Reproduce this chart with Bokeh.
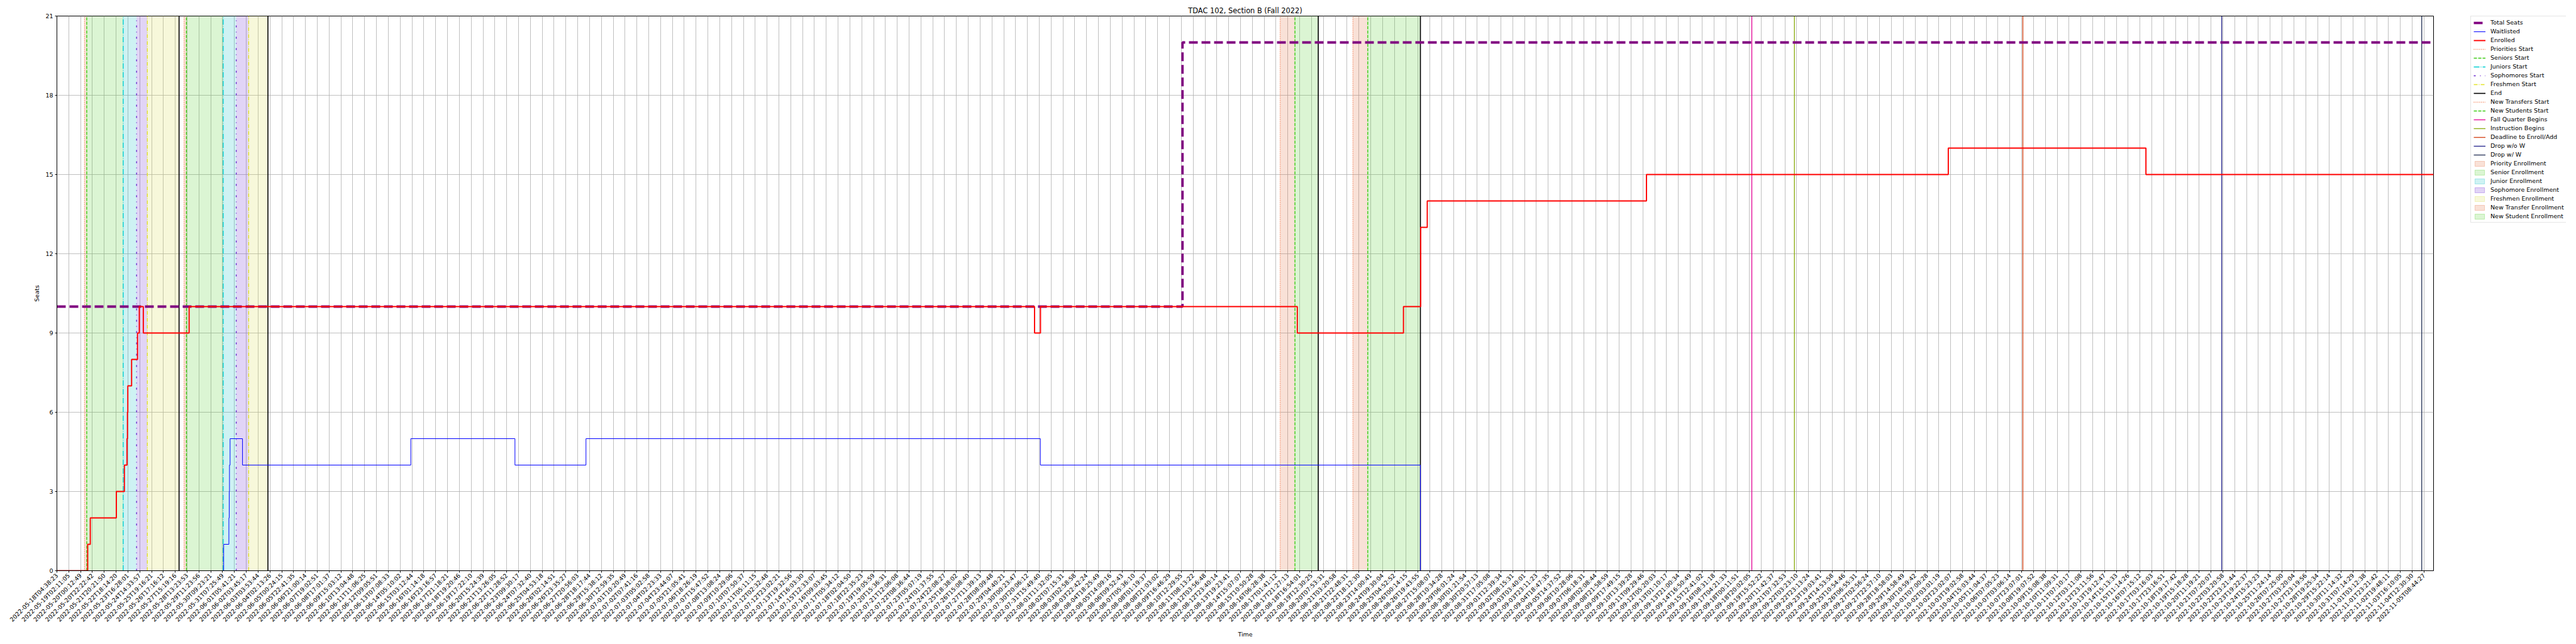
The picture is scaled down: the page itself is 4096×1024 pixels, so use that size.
import math
from bokeh.plotting import figure
from bokeh.layouts import row
from bokeh.models import Range1d, FixedTicker, Legend, LegendItem
from bokeh.core.properties import value
from bokeh.embed import file_html
from bokeh.resources import INLINE

# x values are in "tick units": the axis is a sample-index axis, one unit per labelled tick
tick_labels = [
    "2022-05-18T04:38:23", "2022-05-19T02:11:05", "2022-05-20T00:12:49", "2022-05-20T22:22:42",
    "2022-05-21T20:21:50", "2022-05-22T18:14:20", "2022-05-23T16:28:01", "2022-05-24T14:33:57",
    "2022-05-25T19:16:21", "2022-05-26T17:16:12", "2022-05-27T15:19:16", "2022-05-28T13:23:53",
    "2022-05-29T11:23:56", "2022-05-30T09:23:21", "2022-05-31T07:25:49", "2022-06-01T05:41:21",
    "2022-06-02T03:45:17", "2022-06-03T03:53:44", "2022-06-04T02:13:26", "2022-06-05T00:24:15",
    "2022-06-05T22:41:35", "2022-06-06T21:00:14", "2022-06-07T19:02:51", "2022-06-08T17:01:37",
    "2022-06-09T15:03:12", "2022-06-10T13:04:48", "2022-06-11T11:06:25", "2022-06-12T09:05:51",
    "2022-06-13T07:08:33", "2022-06-14T05:10:02", "2022-06-15T03:12:44", "2022-06-16T01:14:18",
    "2022-06-16T23:16:57", "2022-06-17T21:18:21", "2022-06-18T19:20:46", "2022-06-19T17:22:10",
    "2022-06-20T15:24:39", "2022-06-21T13:26:05", "2022-06-22T11:28:52", "2022-06-23T09:30:17",
    "2022-06-24T07:32:40", "2022-06-25T04:53:18", "2022-06-26T02:14:51", "2022-06-26T23:35:27",
    "2022-06-27T20:56:03", "2022-06-28T18:17:44", "2022-06-29T15:38:12", "2022-06-30T12:59:35",
    "2022-07-01T10:20:49", "2022-07-02T07:41:16", "2022-07-03T05:02:58", "2022-07-04T02:23:33",
    "2022-07-04T23:44:07", "2022-07-05T21:05:41", "2022-07-06T18:26:19", "2022-07-07T15:47:52",
    "2022-07-08T13:08:24", "2022-07-09T10:29:06", "2022-07-10T07:50:37", "2022-07-11T05:11:15",
    "2022-07-12T02:32:48", "2022-07-12T23:02:21", "2022-07-13T19:32:56", "2022-07-14T16:03:30",
    "2022-07-15T12:33:07", "2022-07-16T09:03:45", "2022-07-17T05:34:12", "2022-07-18T02:04:50",
    "2022-07-18T22:35:23", "2022-07-19T19:05:59", "2022-07-20T15:36:31", "2022-07-21T12:06:08",
    "2022-07-22T08:36:44", "2022-07-23T05:07:19", "2022-07-24T01:37:55", "2022-07-24T22:08:27",
    "2022-07-25T18:38:02", "2022-07-26T15:08:40", "2022-07-27T11:39:13", "2022-07-28T08:09:48",
    "2022-07-29T04:40:21", "2022-07-30T00:23:47", "2022-07-30T20:06:12", "2022-07-31T15:49:40",
    "2022-08-01T11:32:05", "2022-08-02T07:15:31", "2022-08-03T02:58:58", "2022-08-03T22:42:24",
    "2022-08-04T18:25:49", "2022-08-05T14:09:16", "2022-08-06T09:52:43", "2022-08-07T05:36:10",
    "2022-08-08T01:19:37", "2022-08-08T21:03:02", "2022-08-09T16:46:29", "2022-08-10T12:29:55",
    "2022-08-11T08:13:22", "2022-08-12T03:56:48", "2022-08-12T23:40:14", "2022-08-13T19:23:41",
    "2022-08-14T15:07:07", "2022-08-15T10:50:28", "2022-08-16T06:28:38", "2022-08-17T01:41:12",
    "2022-08-17T21:27:13", "2022-08-18T16:54:01", "2022-08-19T12:30:25", "2022-08-20T07:53:31",
    "2022-08-21T03:20:58", "2022-08-21T22:48:31", "2022-08-22T18:12:30", "2022-08-23T14:00:41",
    "2022-08-24T09:30:04", "2022-08-25T04:52:52", "2022-08-26T00:14:15", "2022-08-26T19:43:55",
    "2022-08-27T15:08:07", "2022-08-28T10:34:28", "2022-08-29T06:01:24", "2022-08-30T01:21:54",
    "2022-08-30T20:57:13", "2022-08-31T17:05:08", "2022-09-01T12:39:34", "2022-09-02T08:15:31",
    "2022-09-03T03:40:01", "2022-09-03T23:11:23", "2022-09-04T18:47:35", "2022-09-05T14:37:52",
    "2022-09-06T10:28:06", "2022-09-07T06:18:31", "2022-09-08T02:08:44", "2022-09-08T21:58:59",
    "2022-09-09T17:49:15", "2022-09-10T13:39:28", "2022-09-11T09:29:46", "2022-09-12T05:20:03",
    "2022-09-13T01:10:17", "2022-09-13T21:00:34", "2022-09-14T16:50:49", "2022-09-15T12:41:02",
    "2022-09-16T08:31:18", "2022-09-17T04:21:33", "2022-09-18T00:11:51", "2022-09-18T20:02:05",
    "2022-09-19T15:52:22", "2022-09-20T11:42:37", "2022-09-21T07:32:53", "2022-09-22T03:23:10",
    "2022-09-22T23:13:24", "2022-09-23T19:03:41", "2022-09-24T14:53:58", "2022-09-25T10:54:46",
    "2022-09-26T06:55:31", "2022-09-27T02:56:24", "2022-09-27T22:57:10", "2022-09-28T18:58:03",
    "2022-09-29T14:58:49", "2022-09-30T10:59:42", "2022-10-01T07:00:28", "2022-10-02T03:01:19",
    "2022-10-02T23:02:07", "2022-10-03T19:02:58", "2022-10-04T15:03:44", "2022-10-05T11:04:37",
    "2022-10-06T07:05:23", "2022-10-07T03:06:14", "2022-10-07T23:07:01", "2022-10-08T19:07:52",
    "2022-10-09T15:08:38", "2022-10-10T11:09:31", "2022-10-11T07:10:17", "2022-10-12T03:11:08",
    "2022-10-12T23:11:56", "2022-10-13T19:12:47", "2022-10-14T15:13:33", "2022-10-15T11:14:26",
    "2022-10-16T07:15:12", "2022-10-17T03:16:03", "2022-10-17T23:16:51", "2022-10-18T19:17:42",
    "2022-10-19T15:18:28", "2022-10-20T11:19:21", "2022-10-21T07:20:07", "2022-10-22T03:20:58",
    "2022-10-22T23:21:44", "2022-10-23T19:22:37", "2022-10-24T15:23:23", "2022-10-25T11:24:14",
    "2022-10-26T07:25:00", "2022-10-27T03:20:04", "2022-10-27T23:19:56", "2022-10-28T19:25:34",
    "2022-10-29T15:22:14", "2022-10-30T11:14:32", "2022-10-31T07:14:29", "2022-11-01T03:12:38",
    "2022-11-01T23:21:42", "2022-11-02T19:48:11", "2022-11-03T16:10:05", "2022-11-04T12:30:30",
    "2022-11-05T08:44:27",
]
x_end = 200.8

total_x = [0, 95.1, x_end]
total_y = [10, 20, 20]

enrolled_x = [0, 2.6, 2.82, 5.02, 5.70, 5.92, 5.96, 5.99, 6.31, 6.81, 6.96, 7.30, 11.17,
              82.6, 83.1, 104.8, 113.77, 115.22, 115.78, 134.3, 159.8, 176.5, x_end]
enrolled_y = [0, 1, 2, 3, 4, 5, 6, 7, 8, 9, 10, 9, 10,
              9, 10, 9, 10, 13, 14, 15, 16, 15, 15]

waitlist_x = [0, 14.09, 14.53, 14.56, 14.58, 14.63, 15.68, 29.9, 38.7, 44.7, 83.09, 115.2, x_end]
waitlist_y = [0, 1, 2, 3, 4, 5, 4, 5, 4, 5, 4, 0, 0]

priorities_start = [2.33, 10.74]
seniors_start = [2.52, 10.94]
juniors_start = [5.60, 14.05]
sophomores_start = [6.73, 15.15]
freshmen_start = [7.64, 16.2]
end_times = [10.32, 17.83, 106.57, 115.2]
new_transfers_start = [103.35, 109.5]
new_students_start = [104.6, 110.75]
fall_quarter_begins = [143.2]
instruction_begins = [146.8]
deadline_enroll_add = [166.1]
drop_wo_w = [182.9]
drop_w_w = [199.8]

y_ticks = [0, 3, 6, 9, 12, 15, 18, 21]
FONT = "DejaVu Sans"

# ---- styles (shared by the plot and its legend) ----
STEP_STYLES = {
    "Total Seats": dict(line_color="#800080", line_width=3.8, line_dash="14 6"),
    "Waitlisted": dict(line_color="#0000ff", line_width=1),
    "Enrolled": dict(line_color="#ff0000", line_width=1.9),
}
VLINE_STYLES = {
    "Priorities Start": ("#f26b38", "1 2", 1.4),
    "Seniors Start": ("#3ccc14", "5 2", 1.4),
    "Juniors Start": ("#00ced1", "9 2 1 2", 1.4),
    "Sophomores Start": ("#6622cc", "3 7 1 7", 1.4),
    "Freshmen Start": ("#e3e32a", "6 2 1 2", 1.4),
    "End": ("black", "solid", 1.6),
    "New Transfers Start": ("#f26b38", "1 2", 1.4),
    "New Students Start": ("#3ccc14", "5 2", 1.4),
    "Fall Quarter Begins": ("#e5109b", "solid", 1.4),
    "Instruction Begins": ("#8fb01a", "solid", 1.4),
    "Deadline to Enroll/Add": ("#d4481e", "solid", 1.4),
    "Drop w/o W": ("#2b2b90", "solid", 1.4),
    "Drop w/ W": ("#2e3b5e", "solid", 1.4),
}
FILL_STYLES = {
    "Priority Enrollment": "#e06a38",
    "Senior Enrollment": "#4bcd23",
    "Junior Enrollment": "#08bcc2",
    "Sophomore Enrollment": "#6a28d0",
    "Freshmen Enrollment": "#d8dc44",
    "New Transfer Enrollment": "#e06a38",
    "New Student Enrollment": "#4bcd23",
}

W_MAIN = 3900
W_LEG = 180
H = 1016

p = figure(width=W_MAIN, height=H, output_backend="svg", toolbar_location=None,
           x_range=Range1d(0, x_end), y_range=Range1d(0, 21),
           min_border_left=90, min_border_right=31, min_border_top=25, min_border_bottom=103,
           title="TDAC 102, Section B (Fall 2022)")
p.title.align = "center"
p.title.text_font = FONT
p.title.text_font_size = "11.4px"
p.title.text_font_style = "normal"
p.title.text_color = "black"
p.title.standoff = 3
p.outline_line_color = "black"
p.outline_line_width = 1
p.outline_line_alpha = 1
p.background_fill_color = "white"

# shaded enrollment windows
def span(starts, ends, name):
    c = FILL_STYLES[name]
    return p.quad(left=starts, right=ends, bottom=0, top=21, fill_color=c, fill_alpha=0.2,
                  line_color=c, line_alpha=0.0)

span(priorities_start, seniors_start, "Priority Enrollment")
span(seniors_start, juniors_start, "Senior Enrollment")
span(juniors_start, sophomores_start, "Junior Enrollment")
span(sophomores_start, freshmen_start, "Sophomore Enrollment")
span(freshmen_start, [end_times[0], end_times[1]], "Freshmen Enrollment")
span(new_transfers_start, new_students_start, "New Transfer Enrollment")
span(new_students_start, [end_times[2], end_times[3]], "New Student Enrollment")

def vlines(fig, xs, name, lo=0, hi=21):
    color, dash, width = VLINE_STYLES[name]
    return fig.segment(x0=xs, y0=[lo] * len(xs), x1=xs, y1=[hi] * len(xs), line_color=color,
                       line_dash=value(dash), line_width=width)

vlines(p, priorities_start, "Priorities Start")
vlines(p, seniors_start, "Seniors Start")
vlines(p, juniors_start, "Juniors Start")
vlines(p, sophomores_start, "Sophomores Start")
vlines(p, freshmen_start, "Freshmen Start")
vlines(p, end_times, "End")
vlines(p, new_transfers_start, "New Transfers Start")
vlines(p, new_students_start, "New Students Start")
vlines(p, fall_quarter_begins, "Fall Quarter Begins")
vlines(p, instruction_begins, "Instruction Begins")
vlines(p, deadline_enroll_add, "Deadline to Enroll/Add")
vlines(p, drop_wo_w, "Drop w/o W")
vlines(p, drop_w_w, "Drop w/ W")

p.step(total_x, total_y, mode="after", **STEP_STYLES["Total Seats"])
p.step(waitlist_x, waitlist_y, mode="after", **STEP_STYLES["Waitlisted"])
p.step(enrolled_x, enrolled_y, mode="after", **STEP_STYLES["Enrolled"])

# axes
p.xaxis.ticker = FixedTicker(ticks=list(range(len(tick_labels))))
p.xaxis.major_label_overrides = {i: t for i, t in enumerate(tick_labels)}
p.xaxis.major_label_orientation = math.pi / 4
p.yaxis.ticker = FixedTicker(ticks=y_ticks)
for ax in (p.xaxis[0], p.yaxis[0]):
    ax.major_label_text_font = FONT
    ax.major_label_text_font_size = "9.5px"
    ax.major_label_text_color = "black"
    ax.axis_label_text_font = FONT
    ax.axis_label_text_font_size = "9.5px"
    ax.axis_label_text_font_style = "normal"
    ax.axis_label_text_color = "black"
    ax.minor_tick_line_color = None
    ax.major_tick_in = 0
    ax.major_tick_out = 3
    ax.major_tick_line_color = "black"
    ax.axis_line_color = "black"
    ax.major_label_standoff = 3
    ax.axis_label_standoff = 5
p.xaxis.axis_label = "Time"
p.yaxis.axis_label = "Seats"
p.xgrid.grid_line_color = "#b0b0b0"
p.ygrid.grid_line_color = "#b0b0b0"
p.xgrid.grid_line_width = 0.8
p.ygrid.grid_line_width = 0.8

# ---- legend panel (outside the axes, to the right) ----
q = figure(width=W_LEG, height=H, output_backend="svg", toolbar_location=None,
           x_range=Range1d(0, 1), y_range=Range1d(0, 1),
           x_axis_location=None, y_axis_location=None,
           min_border_left=28, min_border_right=0, min_border_top=25, min_border_bottom=0)
q.grid.visible = False
q.outline_line_color = None

items = []
for name, st in STEP_STYLES.items():
    items.append(LegendItem(label=name, renderers=[q.line([-5, -4], [-5, -4], **st)]))
for name in VLINE_STYLES:
    items.append(LegendItem(label=name, renderers=[vlines(q, [-5], name, -5, -4)]))
for name, c in FILL_STYLES.items():
    r = q.quad(left=[-5], right=[-4], bottom=[-5], top=[-4], fill_color=c, fill_alpha=0.2,
               line_color=c, line_alpha=0.3)
    items.append(LegendItem(label=name, renderers=[r]))

legend = Legend(items=items, location="top_left")
legend.label_text_font = FONT
legend.label_text_font_size = "9.5px"
legend.label_text_color = "black"
legend.glyph_width = 19
legend.glyph_height = 10
legend.label_height = 10
legend.label_standoff = 8
legend.spacing = 3
legend.padding = 4
legend.margin = 0
legend.border_line_color = "#cccccc"
legend.background_fill_alpha = 0.8
q.add_layout(legend, "center")

layout = row(p, q)
open("out.html", "w").write(file_html(layout, INLINE))
